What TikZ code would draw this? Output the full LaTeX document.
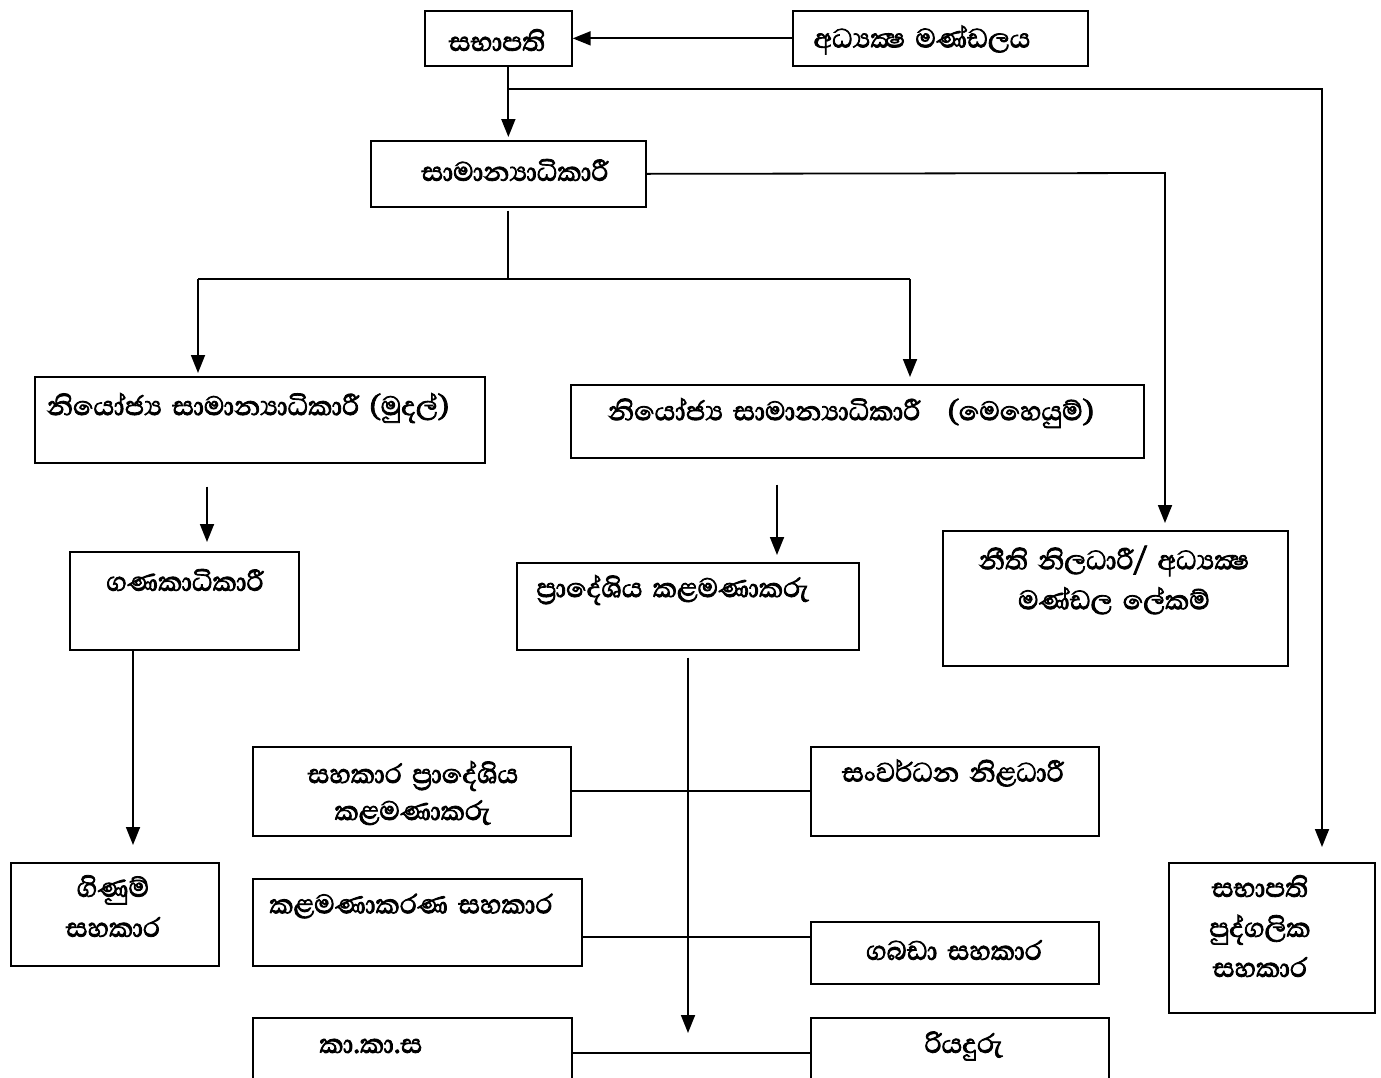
\documentclass[tikz,border=0pt]{standalone}
\usepackage{fontspec}
\newfontfamily\sinhfont[Script=Sinhala,WordSpace=1.6,AutoFakeBold=2.5]{Abhaya Libre}
\usetikzlibrary{arrows.meta}
\begin{document}
\begin{tikzpicture}[x=1pt,y=-1pt,
  box/.style={draw, line width=1.7pt, rectangle, anchor=north west, inner sep=0pt},
  lbl/.style={font=\sinhfont\bfseries\fontsize{34}{40}\selectfont, align=center, inner sep=0pt},
  ln/.style={line width=1.8pt},
  arr/.style={ln, -{Triangle[width=14pt,length=18pt]}}]
\useasboundingbox (0,0) rectangle (1381,1077);
\clip (0,0) rectangle (1381,1077);
% boxes
\node[box, minimum width=147pt, minimum height=55pt] (sab) at (424,10) {};
\node[box, minimum width=295pt, minimum height=55pt] (adh) at (792,10) {};
\node[box, minimum width=275pt, minimum height=66pt] (sam) at (370,140) {};
\node[box, minimum width=450pt, minimum height=86pt] (mud) at (34,376) {};
\node[box, minimum width=573pt, minimum height=73pt] (meh) at (570,384) {};
\node[box, minimum width=345pt, minimum height=135pt] (nit) at (942,530) {};
\node[box, minimum width=229pt, minimum height=98pt] (gan) at (69,551) {};
\node[box, minimum width=342pt, minimum height=87pt] (pra) at (516,562) {};
\node[box, minimum width=318pt, minimum height=89pt] (spr) at (252,746) {};
\node[box, minimum width=288pt, minimum height=89pt] (san) at (810,746) {};
\node[box, minimum width=208pt, minimum height=103pt] (gin) at (10,862) {};
\node[box, minimum width=329pt, minimum height=87pt] (kal) at (252,878) {};
\node[box, minimum width=288pt, minimum height=62pt] (gab) at (810,921) {};
\node[box, minimum width=206pt, minimum height=150pt] (pud) at (1168,862) {};
\node[box, minimum width=319pt, minimum height=90pt] (kks) at (252,1017) {};
\node[box, minimum width=298pt, minimum height=90pt] (riy) at (810,1017) {};
% labels
\node[lbl] (tsab) at (497,40) {සභාපති};
\node[lbl] (tadh) at (922,40) {අධ්^^^^200dයක්^^^^200dෂ මණ්ඩලය};
\node[lbl] (tsam) at (515,170) {සාමාන්^^^^200dයාධිකාරී};
\node[lbl] (tmud) at (248,408) {නියෝජ්^^^^200dය සාමාන්^^^^200dයාධිකාරී (මුදල්)};
\node[lbl] (tmeh) at (851,413) {නියෝජ්^^^^200dය සාමාන්^^^^200dයාධිකාරී\hspace{0.5em} (මෙහෙයුම්)};
\node[lbl] (tnit) at (1114,580) {නීති නිලධාරී/ අධ්^^^^200dයක්^^^^200dෂ\\මණ්ඩල ලේකම්};
\node[lbl] (tgan) at (185,580) {ගණකාධිකාරී};
\node[lbl] (tpra) at (673,590) {ප්^^^^200dරාදේශිය කළමණාකරු};
\node[lbl] (tspr) at (413,793) {සහකාර ප්^^^^200dරාදේශිය\\[-3pt]කළමණාකරු};
\node[lbl] (tsan) at (953,773) {සංවර්ධන නිළධාරී};
\node[lbl] (tgin) at (113,906) {ගිණුම්\\සහකාර};
\node[lbl] (tkal) at (411,906) {කළමණාකරණ සහකාර};
\node[lbl] (tgab) at (954,950) {ගබඩා සහකාර};
\node[lbl] (tpud) at (1260,926) {සභාපති\\පුද්ගලික\\සහකාර};
\node[lbl] (tkks) at (371,1046) {කා.කා.ස};
\node[lbl] (triy) at (964,1046) {රියදුරු};
% coordinates
\coordinate (j1) at (507,89);
\coordinate (c1) at (1322,89);
\coordinate (c2) at (1165,173);
\coordinate (cl) at (198,279);
\coordinate (cr) at (910,279);
\coordinate (cx) at (207,0);
\coordinate (cy) at (133,0);
\coordinate (cz) at (777,0);
\coordinate (cv) at (688,0);
\coordinate (hb) at (0,1053);
% connectors
\draw[arr] (adh.west |- sab.east) -- (sab.east);
\draw[arr, shorten >=3pt] (sam.north |- sab.south) -- (sam.north);
\draw[arr, shorten >=15pt] (j1) -- (c1) -- (c1 |- pud.north);
\draw[arr, shorten >=7pt] (sam.east) -- (c2) -- (c2 |- nit.north);
\draw[ln, shorten <=3pt] (sam.south) -- (sam.south |- cl);
\draw[ln] (cl) -- (cr);
\draw[arr, shorten >=3pt] (cl) -- (cl |- mud.north);
\draw[arr, shorten >=7pt] (cr) -- (cr |- meh.north);
\draw[arr, shorten <=23pt, shorten >=9pt] (cx |- mud.south) -- (cx |- gan.north);
\draw[arr, shorten >=17pt] (cy |- gan.south) -- (cy |- gin.north);
\draw[arr, shorten <=26pt, shorten >=7pt] (cz |- meh.south) -- (cz |- pra.north);
\draw[ln] (spr.east |- 0,791) -- (san.west |- 0,791);
\draw[ln] (kal.east |- 0,937) -- (san.west |- 0,937);
\draw[ln] (kks.east |- hb) -- (riy.west |- hb);
\draw[arr, shorten <=7pt, shorten >=20pt] (cv |- pra.south) -- (cv |- hb);
\end{tikzpicture}
\end{document}
